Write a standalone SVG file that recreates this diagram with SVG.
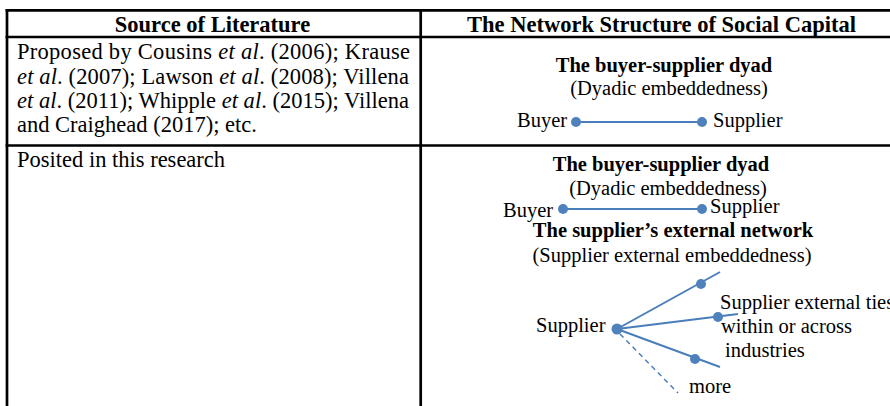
<svg xmlns="http://www.w3.org/2000/svg" width="890" height="406" viewBox="0 0 890 406">
  <style>
    .rule { stroke: #000; stroke-width: 2.7; fill: none; }
    .hd { font-family: "Liberation Serif", "Times New Roman", serif; font-size: 22.5px; font-weight: bold; fill: #000; }
    .body { font-family: "Liberation Serif", "Times New Roman", serif; font-size: 22.5px; fill: #000; }
    .sub { font-family: "Liberation Serif", "Times New Roman", serif; font-size: 20.5px; font-weight: bold; fill: #000; }
    .lbl { font-family: "Liberation Serif", "Times New Roman", serif; font-size: 20.5px; fill: #000; }
    .tie { stroke: #4a7ebb; stroke-width: 2; fill: none; }
    .tie-dash { stroke: #4a7ebb; stroke-width: 1.5; stroke-dasharray: 5 4; fill: none; }
    .dot { fill: #4f81bd; }
    i, .it { font-style: italic; }
  </style>

  <rect width="890" height="406" fill="#fff"/>

  <!-- table rules -->
  <g id="table">
    <line class="rule" x1="5.6" y1="10.3" x2="890" y2="10.3"/>
    <line class="rule" x1="5.6" y1="37" x2="890" y2="37"/>
    <line class="rule" x1="5.6" y1="145.5" x2="890" y2="145.5"/>
    <line class="rule" x1="7" y1="9" x2="7" y2="406"/>
    <line class="rule" x1="420.7" y1="9" x2="420.7" y2="406"/>
  </g>

  <!-- column headings -->
  <g id="headings">
    <text class="hd" x="212.5" y="31.5" text-anchor="middle">Source of Literature</text>
    <text class="hd" x="661.5" y="31.5" text-anchor="middle">The Network Structure of Social Capital</text>
  </g>

  <!-- left column: sources -->
  <g id="sources">
    <text class="body" x="17" y="59" textLength="393" lengthAdjust="spacing">Proposed by Cousins <tspan class="it">et al</tspan>. (2006); Krause</text>
    <text class="body" x="17" y="84" textLength="392" lengthAdjust="spacing"><tspan class="it">et al</tspan>. (2007); Lawson <tspan class="it">et al</tspan>. (2008); Villena</text>
    <text class="body" x="17" y="108" textLength="392" lengthAdjust="spacing"><tspan class="it">et al</tspan>. (2011); Whipple <tspan class="it">et al</tspan>. (2015); Villena</text>
    <text class="body" x="17" y="132">and Craighead (2017); etc.</text>
    <text class="body" x="17" y="167">Posited in this research</text>
  </g>

  <!-- row 1: buyer-supplier dyad -->
  <g id="dyad-1">
    <text class="sub" x="664" y="72" text-anchor="middle">The buyer-supplier dyad</text>
    <text class="lbl" x="669" y="95" text-anchor="middle">(Dyadic embeddedness)</text>
    <text class="lbl" x="517" y="127">Buyer</text>
    <text class="lbl" x="713" y="127">Supplier</text>
  </g>

  <!-- row 2: buyer-supplier dyad -->
  <g id="dyad-2">
    <text class="sub" x="661" y="171" text-anchor="middle">The buyer-supplier dyad</text>
    <text class="lbl" x="668" y="195" text-anchor="middle">(Dyadic embeddedness)</text>
    <text class="lbl" x="503" y="217">Buyer</text>
    <text class="lbl" x="710" y="213">Supplier</text>
  </g>

  <!-- row 2: supplier's external network -->
  <g id="external-network">
    <text class="sub" x="673" y="237" text-anchor="middle">The supplier’s external network</text>
    <text class="lbl" x="672" y="262" text-anchor="middle">(Supplier external embeddedness)</text>
    <text class="lbl" x="536" y="332">Supplier</text>
    <text class="lbl" x="720" y="309">Supplier external ties</text>
    <text class="lbl" x="721" y="333">within or across</text>
    <text class="lbl" x="725" y="357">industries</text>
    <text class="lbl" x="689" y="393">more</text>
  </g>

  <!-- ties -->
  <g id="connectors">
    <line class="tie" x1="576" y1="122" x2="702" y2="122"/>
    <line class="tie" x1="563" y1="209" x2="702" y2="209"/>
    <line class="tie" x1="617" y1="329" x2="720" y2="272"/>
    <line class="tie" x1="617" y1="329" x2="738" y2="314"/>
    <line class="tie" x1="617" y1="329" x2="720" y2="367"/>
    <line class="tie-dash" x1="620" y1="334" x2="678" y2="393"/>
  </g>

  <!-- actor nodes -->
  <g id="nodes">
    <circle class="dot" cx="576" cy="122" r="5"/>
    <circle class="dot" cx="702" cy="122" r="5"/>
    <circle class="dot" cx="563" cy="209" r="5"/>
    <circle class="dot" cx="702" cy="209" r="5"/>
    <circle class="dot" cx="617" cy="329" r="5.5"/>
    <circle class="dot" cx="701" cy="284" r="5"/>
    <circle class="dot" cx="718" cy="317" r="5"/>
    <circle class="dot" cx="695" cy="359" r="5"/>
  </g>
</svg>
